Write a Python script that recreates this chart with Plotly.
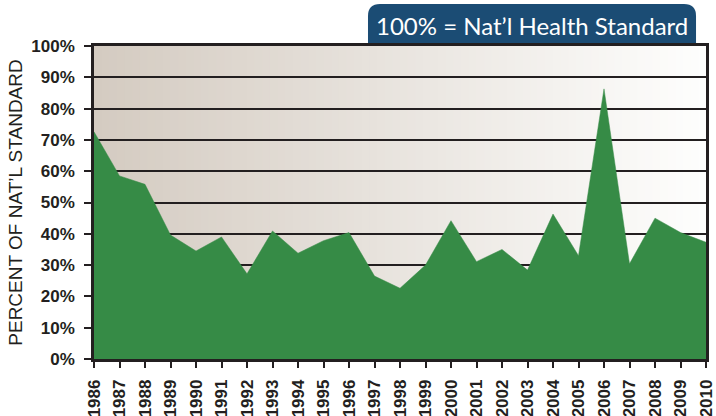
import plotly.graph_objects as go

years = list(range(1986, 2011))
percent_of_standard = [72.6, 58.5, 55.8, 39.6, 34.5, 39.0, 27.2, 40.9, 33.8, 37.8,
                       40.4, 26.5, 22.6, 30.0, 44.2, 31.1, 35.0, 28.4, 46.3, 33.0,
                       86.3, 30.4, 45.0, 40.4, 37.3]
y_ticks = list(range(0, 101, 10))
y_tick_labels = [f"{v}%" for v in y_ticks]
box_text = "100% = Nat\u2019l Health Standard"
y_title = "PERCENT OF NAT\u2019L STANDARD"

fig = go.Figure()
fig.add_trace(go.Scatter(
    x=years, y=percent_of_standard, mode="lines", fill="tozeroy",
    fillcolor="#368b46", line=dict(color="#368b46", width=0.5),
    hoverinfo="x+y", showlegend=False,
))

# background gradient stripes
shapes = []
n = 80
c0 = (212, 203, 193)
c1 = (254, 254, 253)
for i in range(n):
    t = i / (n - 1)
    col = tuple(round(c0[k] + (c1[k] - c0[k]) * t) for k in range(3))
    shapes.append(dict(type="rect", xref="x domain", yref="y domain",
                       x0=i / n, x1=(i + 1) / n + 0.002, y0=0, y1=1,
                       fillcolor=f"rgb{col}", line=dict(width=0), layer="below"))

# title box with rounded top corners (paper coords)
x0, x1, y0, y1 = 0.4477, 0.9837, 1.0, 1.134
rx, ry = 0.0196, 0.0383
path = (f"M {x0},{y0} L {x0},{y1-ry} Q {x0},{y1} {x0+rx},{y1} "
        f"L {x1-rx},{y1} Q {x1},{y1} {x1},{y1-ry} L {x1},{y0} Z")
shapes.append(dict(type="path", xref="paper", yref="paper", path=path,
                   fillcolor="#1b4c74", line=dict(width=0), layer="below"))

fig.update_layout(
    width=716, height=416,
    margin=dict(l=94, r=10, t=46, b=57),
    paper_bgcolor="white", plot_bgcolor="white",
    shapes=shapes,
    annotations=[dict(text=box_text, xref="paper", yref="paper",
                      x=0.7157, y=1.067, xanchor="center", yanchor="middle",
                      showarrow=False,
                      font=dict(family="Lato", size=24, color="white"))],
    xaxis=dict(range=[1986, 2010], tickmode="array", tickvals=years,
               ticktext=[str(y) for y in years], tickangle=-90,
               ticks="outside", ticklen=6, tickwidth=2, tickcolor="#231f20",
               ticklabelstandoff=5,
               showgrid=False, zeroline=False, showline=True, linewidth=2.5,
               linecolor="#231f20", mirror=True, automargin=False,
               tickfont=dict(family="Liberation Sans", size=17, color="#231f20",
                             weight="bold")),
    yaxis=dict(range=[0, 100], tickmode="array", tickvals=y_ticks,
               ticktext=y_tick_labels, ticks="outside", ticklen=7, tickwidth=2,
               tickcolor="#231f20", ticklabelstandoff=6,
               showgrid=True, gridcolor="#231f20",
               gridwidth=2, zeroline=False, showline=True, linewidth=2.5,
               linecolor="#231f20", mirror=True, automargin=False,
               tickfont=dict(family="Liberation Sans", size=17, color="#231f20",
                             weight="bold"),
               title=dict(text=y_title, standoff=4,
                          font=dict(family="Liberation Sans", size=19,
                                    color="#231f20"))),
)
fig.write_html("out.html", config={"displayModeBar": False},
               post_script="document.body.style.margin='0';document.body.style.overflow='hidden';")
